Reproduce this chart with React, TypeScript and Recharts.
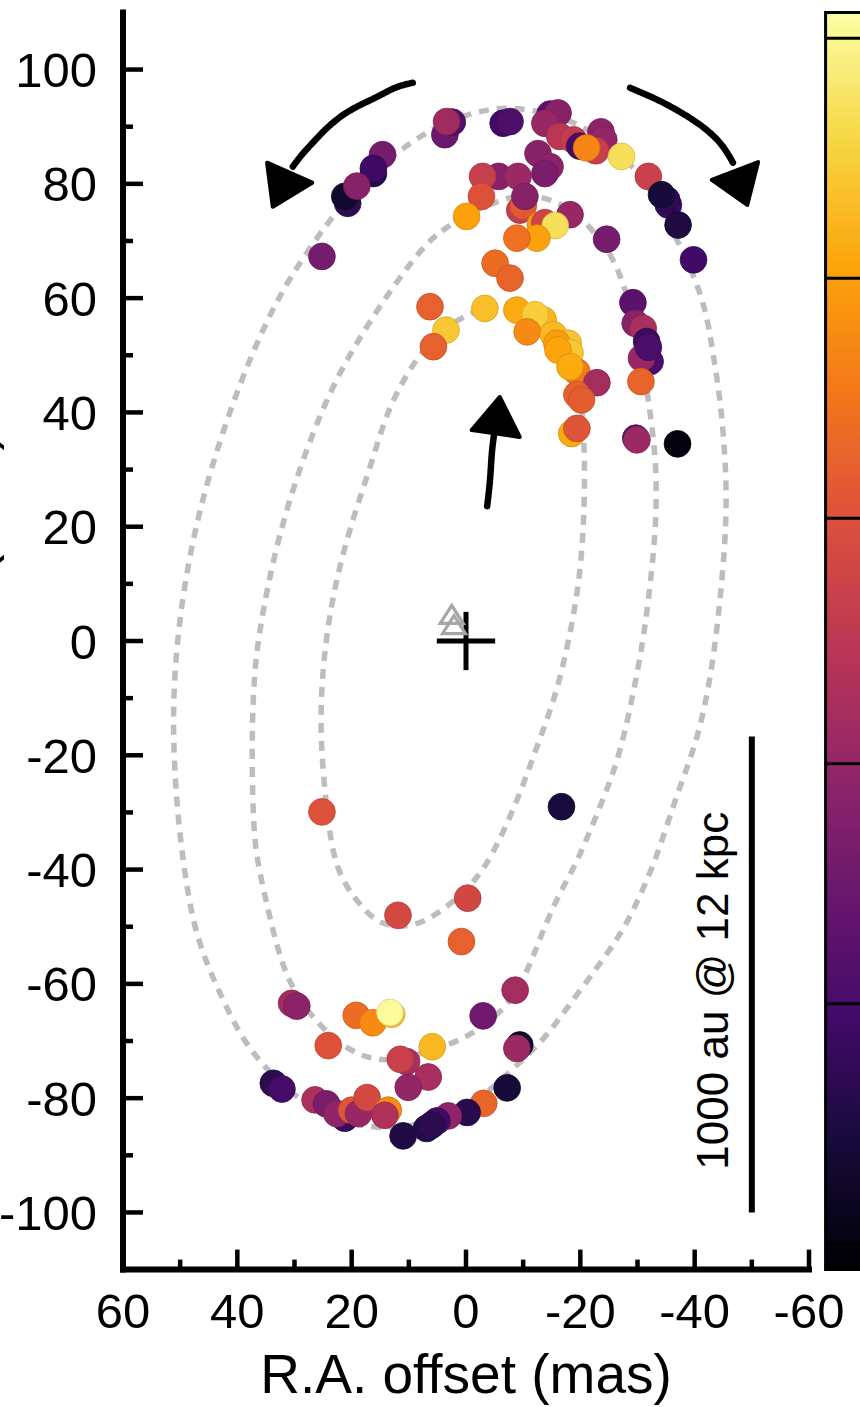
import React from 'react';
import { ComposedChart, XAxis, YAxis, Scatter, ReferenceLine, ReferenceArea } from 'recharts';

const FONT = '"Liberation Sans", Arial, Helvetica, sans-serif';

const X_TICKS = [60, 50, 40, 30, 20, 10, 0, -10, -20, -30, -40, -50, -60];
const Y_TICKS = [-100, -90, -80, -70, -60, -50, -40, -30, -20, -10, 0, 10, 20, 30, 40, 50, 60, 70, 80, 90, 100];
const X_LABEL = 'R.A. offset (mas)';
const Y_LABEL = 'Dec. offset (mas)';
const SCALE_LABEL = '1000 au @ 12 kpc';

// maser spots: R.A. offset, Dec. offset (mas), colour level (0 = bottom of colour bar, 1 = top)
const SPOT_RA = [
  14.6, 16.2, 16.2, 20.7, 21.2, 19.1, 25.2, 3.7, 2.4, 3.4,
  -6.5, -7.7, -14.7, -16.1, -13.8, -16.4, -18.8, -23.6, -24.1, -19.9,
  -22.7, -21.1, -27.2, -31.9, -35.4, -35.1, -34.2, -37.1, -39.8, -12.6,
  -14.7, -13.8, -5.7, -9.1, -2.9, -2.7, -9.4, -10.0, -10.3, -18.2,
  -13.0, -13.8, -15.6, -12.4, -8.9, -24.6, -5.1, -7.7, -0.1, 6.3,
  3.5, 5.7, -3.3, -8.9, -13.5, -12.1, -10.7, -15.3, -17.9, -15.9,
  -18.2, -16.1, -19.4, -18.2, -22.9, -19.4, -20.2, -18.5, -19.4, -29.2,
  -29.6, -31.0, -31.6, -32.2, -30.7, -31.9, -30.6, -29.7, -29.9, -37.0,
  25.2, -16.7, 11.9, -0.3, 0.8, 30.5, 29.6, 19.2, 16.3, 13.0,
  13.3, 24.1, 10.4, 11.5, 6.6, 10.1, 33.7, 32.2, 26.4, 24.4,
  21.2, 22.6, 20.0, 18.8, 17.3, 13.6, 14.2, 11.0, -8.6, -3.0,
  5.9, -9.4, -8.9, -7.2, -3.1, -0.2, 3.1, 5.1, 6.9, 6.0,
];
const SPOT_DEC = [
  85.1, 81.8, 82.7, 76.6, 77.8, 79.6, 67.3, 88.6, 90.8, 90.9,
  90.6, 90.9, 92.2, 92.4, 90.6, 88.3, 87.7, 89.1, 87.7, 86.6,
  85.8, 86.3, 84.8, 81.3, 76.3, 77.2, 78.1, 72.8, 66.7, 85.3,
  83.0, 81.8, 81.3, 81.3, 81.3, 77.8, 75.4, 76.1, 77.8, 74.6,
  72.8, 73.2, 72.7, 70.5, 70.5, 70.3, 66.1, 63.5, 74.3, 58.5,
  54.4, 51.5, 58.2, 57.9, 56.2, 57.1, 54.1, 53.6, 52.1, 52.1,
  50.4, 50.9, 47.1, 48.0, 45.2, 43.1, 42.2, 36.3, 37.2, 59.2,
  55.6, 54.7, 52.4, 48.9, 49.5, 51.4, 45.4, 35.5, 35.2, 34.5,
  -29.9, -29.0, -48.0, -45.0, -52.6, -63.4, -63.9, -65.5, -66.8, -65.3,
  -65.0, -70.8, -73.6, -73.2, -76.3, -78.1, -77.4, -78.4, -80.3, -81.0,
  -83.5, -82.7, -82.1, -82.7, -79.9, -82.1, -83.0, -86.6, -61.1, -65.6,
  -71.0, -70.7, -71.3, -78.2, -80.9, -82.5, -83.1, -84.0, -85.3, -84.7,
];
const SPOT_LEVEL = [
  0.33, 0.13, 0.19, 0.15, 0.08, 0.37, 0.33, 0.30, 0.24, 0.43,
  0.20, 0.23, 0.26, 0.37, 0.41, 0.50, 0.52, 0.38, 0.40, 0.21,
  0.53, 0.73, 0.92, 0.54, 0.18, 0.15, 0.10, 0.12, 0.20, 0.37,
  0.38, 0.34, 0.37, 0.42, 0.53, 0.60, 0.52, 0.62, 0.37, 0.41,
  0.78, 0.55, 0.92, 0.79, 0.68, 0.33, 0.67, 0.65, 0.79, 0.64,
  0.87, 0.64, 0.85, 0.81, 0.83, 0.88, 0.74, 0.84, 0.86, 0.78,
  0.87, 0.80, 0.70, 0.81, 0.44, 0.64, 0.63, 0.81, 0.61, 0.26,
  0.37, 0.45, 0.18, 0.22, 0.41, 0.22, 0.65, 0.25, 0.42, 0.02,
  0.60, 0.11, 0.57, 0.56, 0.64, 0.44, 0.38, 0.67, 0.74, 0.85,
  0.99, 0.60, 0.45, 0.54, 0.45, 0.40, 0.15, 0.21, 0.46, 0.34,
  0.18, 0.39, 0.61, 0.41, 0.57, 0.74, 0.47, 0.12, 0.44, 0.31,
  0.84, 0.08, 0.42, 0.10, 0.65, 0.14, 0.39, 0.20, 0.13, 0.15,
];

// dashed model ellipses
const OUTER_RA = [7.5, 3.7, -0.2, -4.2, -7.7, -11.7, -15.9, -20.0, -25.2, -29.9, -34.0, -37.5, -40.4, -42.2, -43.2, -44.5, -45.3, -45.6, -45.3, -44.4, -43.0, -40.4, -36.9, -33.4, -29.2, -26.4, -22.9, -17.0, -13.8, -8.2, -4.7, -1.7, 1.9, 8.1, 14.2, 20.3, 26.4, 31.7, 36.0, 39.5, 42.5, 45.3, 47.8, 49.5, 50.7, 51.4, 50.6, 48.3, 44.8, 39.6, 34.8, 30.8, 24.3, 18.6, 11.6];
const OUTER_DEC = [88.6, 90.7, 92.1, 93.1, 93.3, 92.9, 91.9, 90.3, 86.8, 82.4, 76.3, 69.0, 62.7, 56.7, 50.4, 42.2, 32.9, 25.0, 16.5, 6.6, -5.6, -17.9, -26.6, -38.0, -47.4, -52.3, -57.2, -65.1, -69.6, -74.9, -78.2, -80.3, -82.6, -84.7, -85.4, -84.5, -82.1, -78.2, -73.7, -69.0, -62.8, -56.7, -49.3, -38.8, -27.8, -13.8, 0.7, 15.9, 29.9, 45.2, 56.2, 63.7, 73.2, 79.8, 85.9];
const MIDDLE_RA = [7.5, 4.6, -0.7, -7.4, -11.2, -15.1, -19.1, -22.1, -24.9, -27.0, -28.7, -30.5, -31.9, -33.1, -33.4, -32.9, -31.9, -31.0, -29.4, -27.0, -24.3, -20.3, -18.7, -15.9, -13.0, -11.2, -8.2, -3.7, 1.0, 6.3, 11.0, 15.6, 20.3, 26.1, 30.8, 33.1, 34.8, 36.6, 37.3, 37.5, 36.9, 35.5, 33.1, 29.1, 23.8, 18.6, 12.8];
const MIDDLE_DEC = [69.0, 71.6, 75.1, 77.7, 78.1, 77.2, 75.1, 71.9, 68.4, 64.1, 58.8, 51.8, 42.2, 33.4, 24.7, 15.9, 7.2, 0.2, -8.6, -19.6, -27.0, -36.6, -40.0, -45.0, -51.8, -56.7, -62.8, -67.0, -70.0, -71.6, -73.3, -73.4, -71.9, -67.0, -60.4, -53.5, -46.2, -38.3, -31.3, -15.1, -3.3, 5.4, 17.2, 30.5, 43.9, 53.2, 62.0];
const INNER_RA = [9.3, 4.6, -0.7, -6.0, -11.2, -15.6, -18.2, -20.0, -20.7, -20.8, -20.3, -18.7, -15.9, -13.0, -8.9, -4.2, -1.9, 0.2, 4.2, 7.5, 11.6, 15.6, 18.5, 20.8, 23.3, 24.7, 25.6, 25.0, 23.3, 20.3, 16.3, 13.8];
const INNER_DEC = [48.7, 54.4, 57.4, 59.2, 58.8, 56.2, 51.8, 43.9, 35.2, 26.4, 14.2, 3.2, -9.1, -16.8, -28.4, -38.3, -41.3, -44.0, -47.1, -49.3, -50.2, -49.3, -46.2, -43.2, -38.3, -26.6, -15.1, -3.3, 8.4, 20.0, 31.7, 40.4];

// hand-drawn rotation arrows
const ARROW_L_RA = [9.3, 12.4, 15.6, 18.9, 22.0, 24.7, 26.8, 28.7, 30.3];
const ARROW_L_DEC = [97.7, 96.8, 95.2, 93.6, 91.7, 89.4, 87.2, 85.1, 83.0];
const HEAD_L_RA = [34.8, 26.9, 33.8];
const HEAD_L_DEC = [83.7, 80.2, 76.0];
const ARROW_R_RA = [-28.7, -34.5, -40.4, -44.4, -46.7];
const ARROW_R_DEC = [96.8, 94.2, 90.7, 87.2, 83.7];
const HEAD_R_RA = [-43.0, -51.1, -49.2];
const HEAD_R_DEC = [80.7, 83.8, 76.3];
const ARROW_C_RA = [-3.7, -4.2, -4.5, -4.9];
const ARROW_C_DEC = [23.6, 28.2, 32.6, 36.1];
const HEAD_C_RA = [-5.9, -1.0, -9.4];
const HEAD_C_DEC = [42.7, 36.9, 35.7];

// reference position markers
const TRI_RA = [2.5, 2.1];
const TRI_DEC = [4.4, 2.6];
const CROSS_HALF = 5.1;

// scale bar: 1000 au at 12 kpc = 83.3 mas
const SCALE_RA = -50;
const SCALE_DEC = [-100, -16.7];

// colour bar (fraction of bar height)
const CBAR_TICKS = [0.0205, 0.2114, 0.4023, 0.5977, 0.7886, 0.9795];
const INFERNO = ['#000004', '#160b39', '#420a68', '#6a176e', '#932667', '#bc3754', '#dd513a', '#f37819', '#fca50a', '#f6d746', '#fcffa4'];

function hexToRgb(h: string) {
  return [parseInt(h.slice(1, 3), 16), parseInt(h.slice(3, 5), 16), parseInt(h.slice(5, 7), 16)];
}
function inferno(t: number, shade = 1) {
  const v = Math.max(0, Math.min(1, t)) * (INFERNO.length - 1);
  const i = Math.min(INFERNO.length - 2, Math.floor(v));
  const f = v - i;
  const a = hexToRgb(INFERNO[i]);
  const b = hexToRgb(INFERNO[i + 1]);
  const c = a.map((x, k) => Math.round((x + (b[k] - x) * f) * shade));
  return `rgb(${c[0]},${c[1]},${c[2]})`;
}

const zip = (xs: number[], ys: number[]) => xs.map((x, i) => ({ x, y: ys[i] }));

const spots = SPOT_RA.map((x, i) => ({ x, y: SPOT_DEC[i], level: SPOT_LEVEL[i] }));

const AXIS_LINE = { stroke: '#000', strokeWidth: 6, strokeLinecap: 'square' as const };
const TICK_W = 4.5;

const BottomTick = (p: any) => {
  const v = p.payload.value;
  const major = v % 20 === 0;
  return (
    <g>
      <line x1={p.x} x2={p.x} y1={p.y} y2={p.y - (major ? 20 : 10)} stroke="#000" strokeWidth={TICK_W} />
      {major && (
        <text x={p.x} y={p.y + 58} textAnchor="middle" fontSize={49} fontFamily={FONT} fill="#000">{String(v)}</text>
      )}
    </g>
  );
};
const TopTick = (p: any) => {
  const v = p.payload.value;
  const major = v % 20 === 0;
  return <line x1={p.x} x2={p.x} y1={p.y} y2={p.y + (major ? 20 : 10)} stroke="#000" strokeWidth={TICK_W} />;
};
const LeftTick = (p: any) => {
  const v = p.payload.value;
  const major = v % 20 === 0;
  return (
    <g>
      <line x1={p.x} x2={p.x + (major ? 20 : 10)} y1={p.y} y2={p.y} stroke="#000" strokeWidth={TICK_W} />
      {major && (
        <text x={p.x - 26} y={p.y + 17.5} textAnchor="end" fontSize={49} fontFamily={FONT} fill="#000">{String(v)}</text>
      )}
    </g>
  );
};
const RightTick = (p: any) => {
  const v = p.payload.value;
  const major = v % 20 === 0;
  return <line x1={p.x} x2={p.x - (major ? 20 : 10)} y1={p.y} y2={p.y} stroke="#000" strokeWidth={TICK_W} />;
};

const NoShape = () => <g />;

const SpotShape = (p: any) => (
  <circle cx={p.cx} cy={p.cy} r={13.4} fill={inferno(p.payload.level)} stroke={inferno(p.payload.level, 0.85)} strokeWidth={0.8} />
);

const TriShape = (p: any) => (
  <path
    d={`M${p.cx},${p.cy - 10.5} L${p.cx + 11.5},${p.cy + 7.5} L${p.cx - 11.5},${p.cy + 7.5} Z`}
    fill="none"
    stroke="#a6a6a6"
    strokeWidth={3.2}
  />
);

const XLabelShape = (p: any) => (
  <text x={p.cx} y={p.cy + 123} textAnchor="middle" fontSize={55} fontFamily={FONT} fill="#000">{X_LABEL}</text>
);
const YLabelShape = (p: any) => (
  <text x={p.cx - 131} y={p.cy} transform={`rotate(-90 ${p.cx - 131} ${p.cy})`} textAnchor="middle" fontSize={55} fontFamily={FONT} fill="#000">{Y_LABEL}</text>
);
const ScaleLabelShape = (p: any) => (
  <text x={p.cx - 24} y={p.cy} transform={`rotate(-90 ${p.cx - 24} ${p.cy})`} textAnchor="middle" fontSize={44} fontFamily={FONT} fill="#000">{SCALE_LABEL}</text>
);

const ELLIPSE_LINE = { stroke: '#bdbdbd', strokeWidth: 5.5, strokeDasharray: '10 8' };
const SHAFT_LINE = { stroke: '#000', strokeWidth: 6.5, strokeLinecap: 'round' as const, strokeDasharray: '3 0.8' };
const HEAD_LINE = { stroke: '#000', strokeWidth: 4, fill: '#000', strokeLinejoin: 'round' as const };

export default function App() {
  return (
    <div style={{ position: 'absolute', left: 0, top: 0, width: 860, height: 1407, background: '#fff' }}>
      <ComposedChart width={860} height={1407} margin={{ top: 12.4, right: 51, bottom: 0, left: 8 }}>
        <defs>
          <linearGradient id="infernoGrad" x1="0" y1="1" x2="0" y2="0">
            {INFERNO.map((c, i) => (
              <stop key={i} offset={i / (INFERNO.length - 1)} stopColor={c} />
            ))}
          </linearGradient>
        </defs>
        <XAxis
          type="number"
          dataKey="x"
          domain={[-60, 60]}
          reversed
          ticks={X_TICKS}
          interval={0}
          tickSize={0}
          tickMargin={0}
          tickLine={false}
          axisLine={AXIS_LINE}
          tick={BottomTick}
          height={137.4}
        />
        <XAxis
          xAxisId="top"
          orientation="top"
          type="number"
          dataKey="x"
          domain={[-60, 60]}
          allowDataOverflow
          reversed
          ticks={X_TICKS}
          interval={0}
          tickSize={0}
          tickMargin={0}
          tickLine={false}
          axisLine={AXIS_LINE}
          tick={TopTick}
          height={0}
        />
        <YAxis
          type="number"
          dataKey="y"
          domain={[-110, 110]}
          ticks={Y_TICKS}
          interval={0}
          tickSize={0}
          tickMargin={0}
          tickLine={false}
          axisLine={AXIS_LINE}
          tick={LeftTick}
          width={115}
        />
        <YAxis
          yAxisId="right"
          orientation="right"
          type="number"
          dataKey="y"
          domain={[-110, 110]}
          allowDataOverflow
          ticks={Y_TICKS}
          interval={0}
          tickSize={0}
          tickMargin={0}
          tickLine={false}
          axisLine={AXIS_LINE}
          tick={RightTick}
          width={0}
        />
        <YAxis yAxisId="cb" type="number" domain={[0, 1]} allowDataOverflow hide />

        <ReferenceArea
          yAxisId="cb"
          x1={-62.9}
          x2={-72}
          y1={0}
          y2={1}
          ifOverflow="visible"
          fill="url(#infernoGrad)"
          fillOpacity={1}
          stroke="#000"
          strokeWidth={3}
        />
        {CBAR_TICKS.map((t, i) => (
          <ReferenceLine
            key={`cb${i}`}
            yAxisId="cb"
            segment={[{ x: -62.9, y: t }, { x: -72, y: t }]}
            ifOverflow="visible"
            stroke="#000"
            strokeWidth={3}
          />
        ))}

        <Scatter data={zip(OUTER_RA, OUTER_DEC)} line={ELLIPSE_LINE} lineJointType="basisClosed" shape={NoShape} isAnimationActive={false} />
        <Scatter data={zip(MIDDLE_RA, MIDDLE_DEC)} line={ELLIPSE_LINE} lineJointType="basisClosed" shape={NoShape} isAnimationActive={false} />
        <Scatter data={zip(INNER_RA, INNER_DEC)} line={ELLIPSE_LINE} lineJointType="basisClosed" shape={NoShape} isAnimationActive={false} />

        <Scatter data={zip(ARROW_L_RA, ARROW_L_DEC)} line={SHAFT_LINE} lineJointType="natural" shape={NoShape} isAnimationActive={false} />
        <Scatter data={zip(HEAD_L_RA, HEAD_L_DEC)} line={HEAD_LINE} lineJointType="linearClosed" shape={NoShape} isAnimationActive={false} />
        <Scatter data={zip(ARROW_R_RA, ARROW_R_DEC)} line={SHAFT_LINE} lineJointType="natural" shape={NoShape} isAnimationActive={false} />
        <Scatter data={zip(HEAD_R_RA, HEAD_R_DEC)} line={HEAD_LINE} lineJointType="linearClosed" shape={NoShape} isAnimationActive={false} />
        <Scatter data={zip(ARROW_C_RA, ARROW_C_DEC)} line={SHAFT_LINE} lineJointType="natural" shape={NoShape} isAnimationActive={false} />
        <Scatter data={zip(HEAD_C_RA, HEAD_C_DEC)} line={HEAD_LINE} lineJointType="linearClosed" shape={NoShape} isAnimationActive={false} />

        <ReferenceLine segment={[{ x: CROSS_HALF, y: 0 }, { x: -CROSS_HALF, y: 0 }]} stroke="#000" strokeWidth={5} />
        <ReferenceLine segment={[{ x: 0, y: -CROSS_HALF }, { x: 0, y: CROSS_HALF }]} stroke="#000" strokeWidth={5} />
        <Scatter data={zip(TRI_RA, TRI_DEC)} shape={TriShape} isAnimationActive={false} />

        <ReferenceLine segment={[{ x: SCALE_RA, y: SCALE_DEC[0] }, { x: SCALE_RA, y: SCALE_DEC[1] }]} stroke="#000" strokeWidth={6} />
        <Scatter data={[{ x: SCALE_RA, y: -61.2 }]} shape={ScaleLabelShape} isAnimationActive={false} />

        <Scatter data={spots} shape={SpotShape} isAnimationActive={false} />

        <Scatter data={[{ x: 0, y: -110 }]} shape={XLabelShape} isAnimationActive={false} />
        <Scatter data={[{ x: 60, y: 0 }]} shape={YLabelShape} isAnimationActive={false} />
      </ComposedChart>
    </div>
  );
}
